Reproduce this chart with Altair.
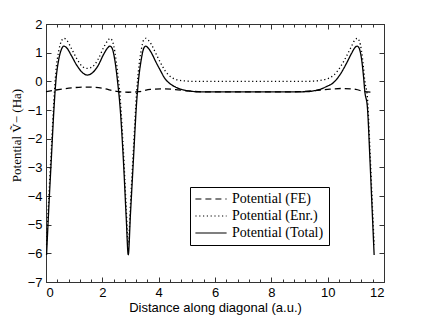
import altair as alt
import pandas as pd

# ---- data ----
total_x = [0.02, 0.1, 0.2, 0.28, 0.35, 0.45, 0.55, 0.63, 0.75, 0.9, 1.1, 1.3, 1.47, 1.65, 1.85,
           2.05, 2.2, 2.27, 2.35, 2.45, 2.54, 2.63, 2.75, 2.85, 2.92, 3.0, 3.1, 3.22, 3.28, 3.38,
           3.47, 3.54, 3.62, 3.75, 3.9, 4.05, 4.22, 4.4, 4.6, 4.87, 5.2, 5.5, 6.5, 7.5, 8.5, 9.3,
           9.5, 9.73, 9.96, 10.2, 10.45, 10.67, 10.85, 10.97, 11.05, 11.12, 11.2, 11.27, 11.32,
           11.41, 11.5, 11.58, 11.65]
total_y = [-6.06, -4.4, -2.5, -1.0, 0.0, 0.75, 1.12, 1.23, 1.15, 0.9, 0.55, 0.3, 0.22, 0.3, 0.55,
           0.95, 1.18, 1.23, 1.15, 0.7, 0.0, -0.9, -2.8, -4.8, -6.05, -4.6, -2.8, -0.7, 0.0, 0.75,
           1.15, 1.23, 1.17, 0.98, 0.68, 0.4, 0.1, -0.08, -0.2, -0.3, -0.35, -0.37, -0.37, -0.37, -0.37, -0.36,
           -0.33, -0.28, -0.18, -0.05, 0.25, 0.63, 0.98, 1.18, 1.23, 1.15, 0.8, 0.2, -0.36,
           -0.9, -2.7, -4.5, -6.06]

enr_x = total_x
enr_y = [-5.7, -4.05, -2.15, -0.68, 0.33, 1.05, 1.41, 1.5, 1.42, 1.15, 0.78, 0.51, 0.45, 0.51, 0.77,
         1.19, 1.43, 1.5, 1.42, 1.0, 0.33, -0.55, -2.45, -4.45, -5.7, -4.25, -2.45, -0.35, 0.35, 1.08,
         1.45, 1.5, 1.45, 1.27, 0.97, 0.68, 0.38, 0.18, 0.07, 0.02, 0.0, 0.0, 0.0, 0.0, 0.0, 0.0,
         0.01, 0.03, 0.08, 0.2, 0.5, 0.88, 1.23, 1.45, 1.5, 1.42, 1.07, 0.5, 0.0,
         -0.55, -2.35, -4.15, -5.7]

fe_x = [0.0, 0.5, 1.0, 1.5, 2.0, 2.5, 2.92, 3.3, 3.7, 4.2, 4.6, 5.0, 5.4, 6.0, 7.0, 8.0, 9.0,
        9.5, 10.0, 10.5, 11.0, 11.3, 11.65]
fe_y = [-0.36, -0.28, -0.22, -0.2, -0.24, -0.35, -0.38, -0.36, -0.28, -0.26, -0.29, -0.33, -0.36,
        -0.37, -0.37, -0.37, -0.36, -0.33, -0.28, -0.25, -0.28, -0.36, -0.38]

series_names = ["Potential (FE)", "Potential (Enr.)", "Potential (Total)"]
x_major = [0, 2, 4, 6, 8, 10, 12]
x_minor = [round(i * 0.4, 1) for i in range(31)]
y_major = [-7, -6, -5, -4, -3, -2, -1, 0, 1, 2]

rows = []
for name, xs, ys in zip(series_names, [fe_x, enr_x, total_x], [fe_y, enr_y, total_y]):
    for i, (a, b) in enumerate(zip(xs, ys)):
        rows.append({"series": name, "x": a, "y": b, "order": i})
df = pd.DataFrame(rows)

W, H = 338, 258
xscale = alt.Scale(domain=[0, 12], nice=False, zero=False)
yscale = alt.Scale(domain=[-7, 2], nice=False, zero=False)
sans = "Liberation Sans"
serif = "Liberation Serif, DejaVu Serif"

main = alt.Chart(df).mark_line(strokeWidth=1.3, interpolate="monotone", color="black").encode(
    x=alt.X("x:Q", scale=xscale,
            axis=alt.Axis(values=x_major, ticks=False, domain=False, grid=False, labelFont=sans,
                          labelFontSize=13, labelColor="black", labelPadding=4,
                          title="Distance along diagonal (a.u.)", titleFont=sans,
                          titleFontSize=13, titleFontWeight="normal", titleColor="black",
                          titlePadding=2)),
    y=alt.Y("y:Q", scale=yscale,
            axis=alt.Axis(values=y_major, ticks=False, domain=False, grid=False, labelFont=sans,
                          labelFontSize=13, labelColor="black", labelPadding=4,
                          title="Potential \u1e7c\u2212 (Ha)", titleFont=serif, titleFontSize=13,
                          titleFontWeight="normal", titleColor="black", titleY=111, titleX=-23)),
    strokeDash=alt.StrokeDash("series:N", sort=series_names,
                              scale=alt.Scale(domain=series_names,
                                              range=[[6, 4], [1.2, 2.6], [1, 0]]),
                              legend=alt.Legend(title=None, orient="none", legendX=144, legendY=163,
                                                symbolType="M-2.6,0H2.6", symbolSize=144,
                                                symbolOffset=9,
                                                symbolStrokeColor="black", symbolStrokeWidth=1.2,
                                                labelFont=serif, labelFontSize=14,
                                                labelColor="black", strokeColor="black",
                                                fillColor="white", padding=5, rowPadding=3,
                                                labelOffset=14)),
    detail="series:N",
    order="order:Q",
)


def tick_layer(xaxis=None, yaxis=None):
    return alt.Chart(df).mark_point(opacity=0).encode(
        x=alt.X("x:Q", scale=xscale, axis=xaxis),
        y=alt.Y("y:Q", scale=yscale, axis=yaxis),
    )


def xt(orient, values, size):
    return alt.Axis(orient=orient, offset=-H, values=values, tickSize=size, labels=False,
                    domain=False, grid=False, title=None, tickColor="#333")


def yt(orient, values, size):
    return alt.Axis(orient=orient, offset=-W, values=values, tickSize=size, labels=False,
                    domain=False, grid=False, title=None, tickColor="#333")


layers = [
    main,
    tick_layer(xaxis=xt("top", x_major, 5)),
    tick_layer(xaxis=xt("top", x_minor, 3)),
    tick_layer(xaxis=xt("bottom", x_major, 5)),
    tick_layer(xaxis=xt("bottom", x_minor, 3)),
    tick_layer(yaxis=yt("right", y_major, 5)),
    tick_layer(yaxis=yt("left", y_major, 5)),
]

chart = alt.layer(*layers).resolve_axis(x="independent", y="independent").properties(
    width=W, height=H,
    autosize=alt.AutoSizeParams(type="none"),
    padding={"left": 38, "top": 16, "right": 20, "bottom": 34},
).configure_view(stroke="#333", strokeWidth=1)

chart.save("out.html", embed_options={"renderer": "svg", "actions": False})
